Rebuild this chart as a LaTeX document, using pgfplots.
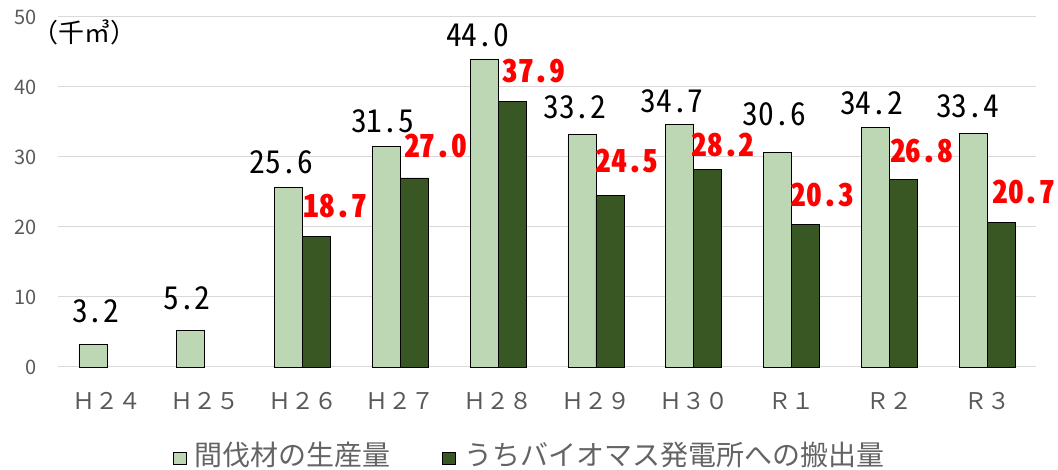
\documentclass[border=0pt]{standalone}
\usepackage{pgfplots}
\pgfplotsset{compat=1.18}
\usepackage{pgfplotstable}
\usepackage{fontspec}
\setmainfont{Noto Sans CJK JP}
\newfontfamily\lblfont{Noto Sans CJK JP}[RawFeature=+hwid]
\definecolor{lightbar}{RGB}{189,215,180}
\definecolor{darkbar}{RGB}{56,87,35}
\definecolor{axgray}{RGB}{89,89,89}
\definecolor{legendgray}{RGB}{100,100,100}
\definecolor{gridgray}{RGB}{217,217,217}

% bar values
\pgfplotstableread{
x y
0 3.2
1 5.2
2 25.6
3 31.5
4 44.0
5 33.2
6 34.7
7 30.6
8 34.2
9 33.4
}\lighttable

\pgfplotstableread{
x y
2 18.7
3 27.0
4 37.9
5 24.5
6 28.2
7 20.3
8 26.8
9 20.7
}\darktable

% label positions (as in the reference)
\pgfplotstableread{
x y lab
-0.113 6.86 3.2
0.820 8.71 5.2
1.783 28.14 25.6
2.818 34.0 31.5
3.790 46.29 44.0
4.785 36.0 33.2
5.779 36.86 34.7
6.824 35.0 30.6
7.818 36.57 34.2
8.801 36.14 33.4
}\blacklabels

\pgfplotstableread{
x y lab
2.336 21.86 18.7
3.361 30.43 27.0
4.365 41.14 37.9
5.318 28.29 24.5
6.301 30.57 28.2
7.316 23.43 20.3
8.330 29.71 26.8
9.375 23.86 20.7
}\redlabels

\begin{document}
\begin{tikzpicture}
\begin{axis}[
  at={(58pt,103pt)}, anchor=south west,
  scale only axis, width=978pt, height=350pt,
  xmin=-0.5, xmax=9.5, ymin=0, ymax=50,
  xtick={0,...,9},
  xticklabels={Ｈ２４,Ｈ２５,Ｈ２６,Ｈ２７,Ｈ２８,Ｈ２９,Ｈ３０,Ｒ１,Ｒ２,Ｒ３},
  ytick={0,10,...,50},
  ymajorgrids, grid style={gridgray, line width=1pt},
  axis line style={draw=none},
  major tick length=0pt,
  tick label style={text=axgray},
  yticklabel style={font=\fontsize{20}{23}\selectfont, inner sep=0pt, xshift=-21pt},
  xticklabel style={font=\fontsize{23}{26}\selectfont, yshift=-22pt},
  /pgf/number format/assume math mode=true,
  legend style={at={(0.482,-0.249)}, anchor=center, draw=none, fill=none,
    legend columns=2, font=\fontsize{28}{32}\selectfont, text=legendgray,
    /tikz/every odd column/.append style={column sep=6pt},
    /tikz/every even column/.append style={column sep=50pt}},
  legend image code/.code={\draw[#1] (-5pt,-10pt) rectangle (8pt,2pt);},
  clip=false,
]
\addplot[ybar, bar width=28pt, bar shift=-14pt, fill=lightbar, draw=black, line width=0.8pt]
  table[x=x, y=y] {\lighttable};
\addlegendentry{間伐材の生産量}
\addplot[ybar, bar width=28pt, bar shift=14pt, fill=darkbar, draw=black, line width=0.8pt]
  table[x=x, y=y] {\darktable};
\addlegendentry{うちバイオマス発電所への搬出量}
\addplot[draw=none, mark=none, forget plot, nodes near coords, point meta=explicit symbolic,
  every node near coord/.append style={anchor=center, inner sep=0pt, text height=0.733em, text depth=0pt, text=black, font=\lblfont\fontsize{31.5}{36}\selectfont}]
  table[x=x, y=y, meta=lab] {\blacklabels};
\addplot[draw=none, mark=none, forget plot, nodes near coords, point meta=explicit symbolic,
  every node near coord/.append style={anchor=center, inner sep=0pt, text height=0.733em, text depth=0pt, text=red, font=\lblfont\bfseries\fontsize{31.5}{36}\selectfont}]
  table[x=x, y=y, meta=lab] {\redlabels};
\node[anchor=west, inner sep=0pt, font=\fontsize{26}{30}\selectfont, text=black, xshift=-13pt, yshift=-15.5pt] at (rel axis cs:0,1) {\kern-0.5em（千㎥）};
\end{axis}
\pgfresetboundingbox
\path[use as bounding box] (0,0) rectangle (1058pt,470pt);
\end{tikzpicture}
\end{document}
